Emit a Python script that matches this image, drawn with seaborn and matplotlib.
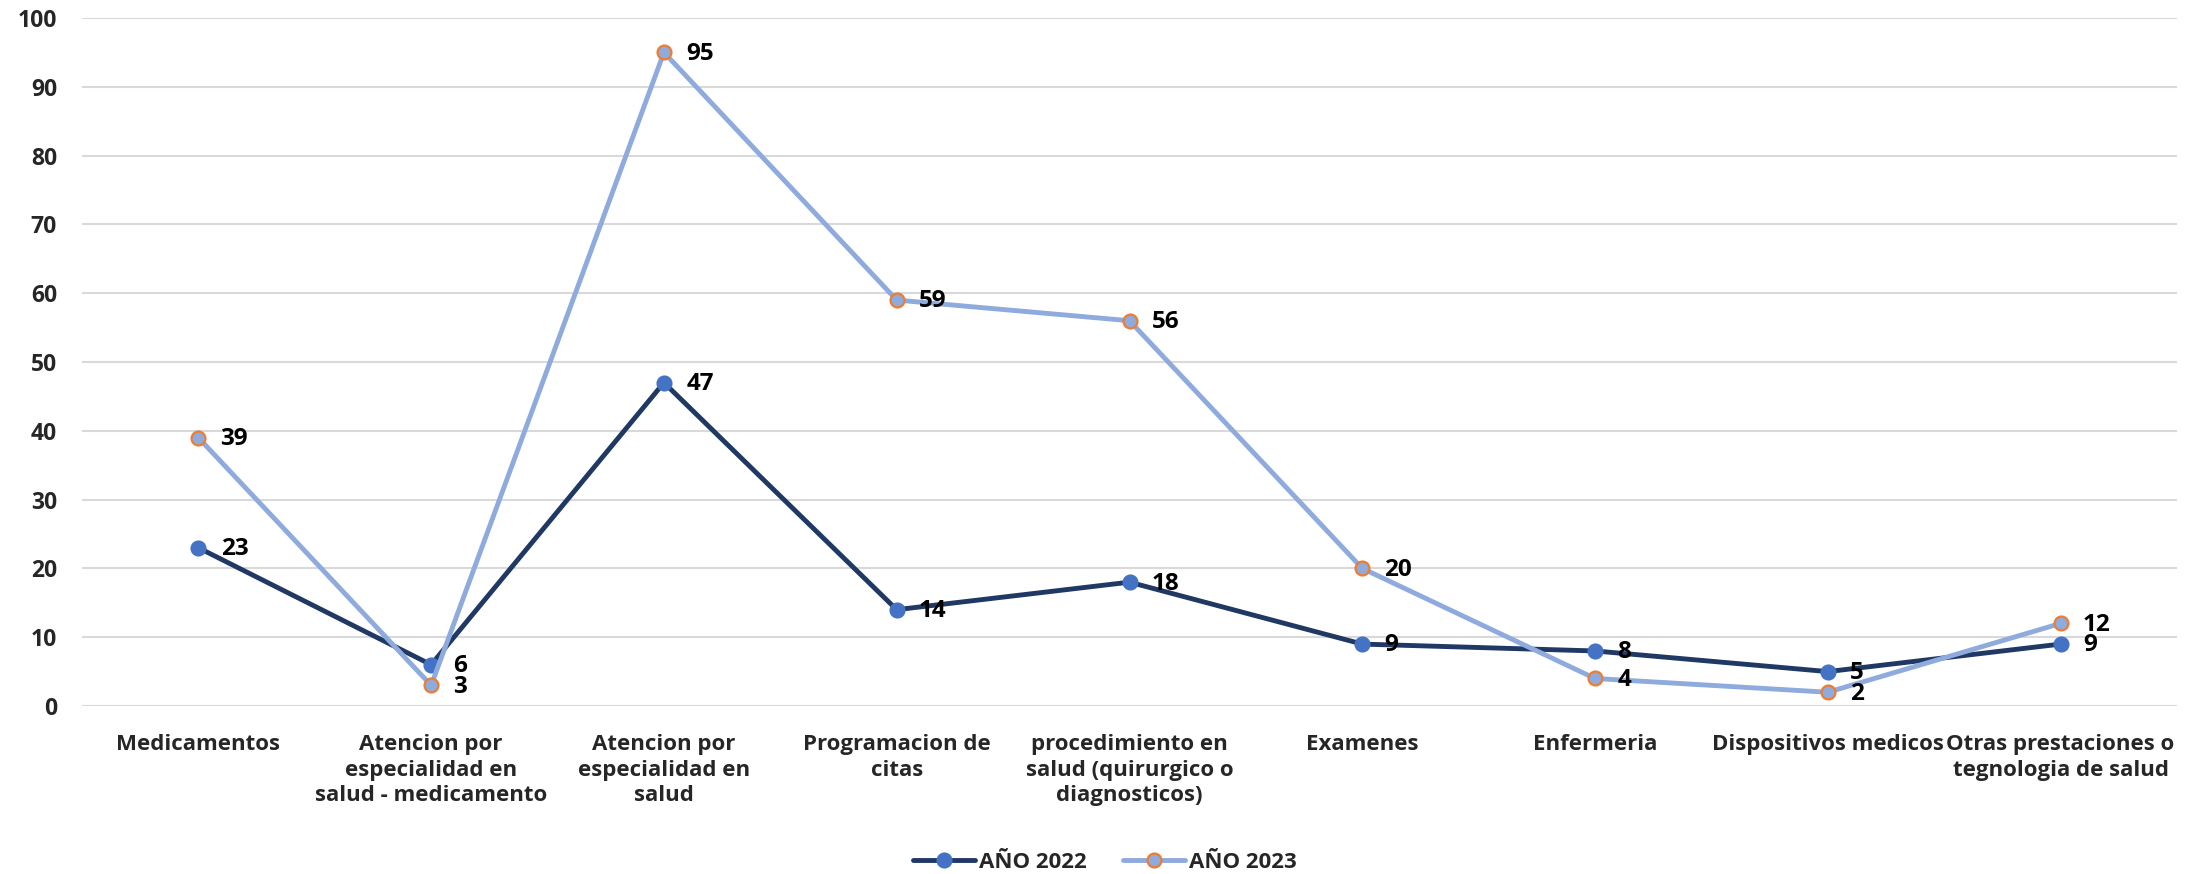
import numpy as np
import pandas as pd
import matplotlib
matplotlib.use("Agg")
import matplotlib.pyplot as plt
import seaborn as sns

categories = [
    "Medicamentos",
    "Atencion por\nespecialidad en\nsalud - medicamento",
    "Atencion por\nespecialidad en\nsalud",
    "Programacion de\ncitas",
    "procedimiento en\nsalud (quirurgico o\ndiagnosticos)",
    "Examenes",
    "Enfermeria",
    "Dispositivos medicos",
    "Otras prestaciones o\ntegnologia de salud",
]
values_2022 = [23, 6, 47, 14, 18, 9, 8, 5, 9]
values_2023 = [39, 3, 95, 59, 56, 20, 4, 2, 12]
series_names = ["AÑO 2022", "AÑO 2023"]
y_ticks = [0, 10, 20, 30, 40, 50, 60, 70, 80, 90, 100]

sns.set_theme(style="white")
plt.rcParams["font.family"] = ["Open Sans", "DejaVu Sans"]
plt.rcParams["font.weight"] = "bold"

pos = np.arange(len(categories))
df = pd.DataFrame({
    "pos": np.concatenate([pos, pos]),
    "value": values_2022 + values_2023,
    "serie": [series_names[0]] * len(pos) + [series_names[1]] * len(pos),
})

fig = plt.figure(figsize=(22.01, 8.74), dpi=100)
ax = fig.add_axes([82 / 2201, 1 - 706 / 874, (2177 - 82) / 2201, (706 - 18) / 874])

styles = {
    series_names[0]: dict(color="#203864", mfc="#4472C4", mec="#4472C4"),
    series_names[1]: dict(color="#8FAADC", mfc="#8FAADC", mec="#ED7D31"),
}
for name in series_names:
    sub = df[df["serie"] == name]
    st = styles[name]
    sns.lineplot(data=sub, x="pos", y="value", ax=ax, color=st["color"],
                 linewidth=3.5, marker="o", markersize=10,
                 markerfacecolor=st["mfc"], markeredgecolor=st["mec"],
                 markeredgewidth=1.6, label=name, zorder=3)
    for xv, yv in zip(sub["pos"], sub["value"]):
        ax.annotate(str(yv), (xv, yv), xytext=(16, -1), textcoords="offset points",
                    ha="left", va="center", fontsize=17.5, fontweight="bold",
                    color="black", zorder=4)

ax.set_xlim(-0.5, len(categories) - 0.5)
ax.set_ylim(0, 100)
ax.set_yticks(y_ticks)
ax.set_xticks(pos)
ax.set_xticklabels(categories, fontsize=16, fontweight="bold", linespacing=1.3,
                   va="top")
ax.tick_params(axis="x", length=0, pad=20)
ax.tick_params(axis="y", length=0, pad=18, labelsize=16.5)
for lab in ax.get_yticklabels():
    lab.set_fontweight("bold")
ax.grid(axis="y", color="#D9D9D9", linewidth=1.5)
ax.grid(axis="x", visible=False)
ax.set_axisbelow(True)
for s in ax.spines.values():
    s.set_visible(False)
ax.set_xlabel("")
ax.set_ylabel("")

leg = ax.legend(loc="center", bbox_to_anchor=(1105 / 2201, 1 - 862 / 874),
                bbox_transform=fig.transFigure, ncol=2, frameon=False,
                prop={"size": 16, "weight": "bold"}, handlelength=2.8,
                columnspacing=1.6, handletextpad=0.2)

fig.savefig("out.png", dpi=100, facecolor="white")
